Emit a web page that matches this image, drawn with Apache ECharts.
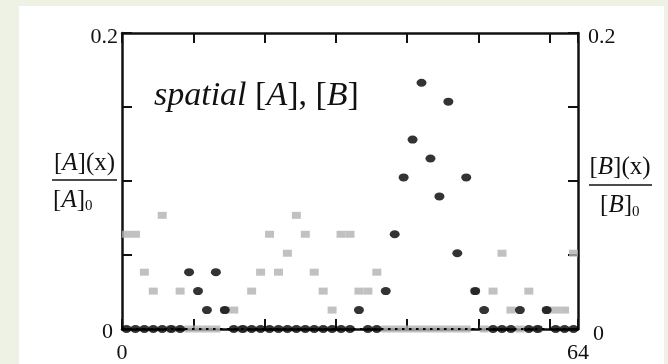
<!DOCTYPE html>
<html>
<head>
<meta charset="utf-8">
<script src="https://cdn.jsdelivr.net/npm/echarts@6/dist/echarts.min.js"></script>
<style>
  html, body { margin: 0; padding: 0; background: #eef2e4; }
  #chart { width: 668px; height: 364px; }
</style>
</head>
<body>
<div id="chart"></div>
<script>
// Compartment index along the 1-D domain (51 compartments spanning x = 0..64)
const cells = [
  0, 1, 2, 3, 4, 5, 6, 7, 8, 9, 10, 11, 12, 13, 14, 15, 16, 17, 18, 19, 20, 21, 22, 23, 24, 25,
  26, 27, 28, 29, 30, 31, 32, 33, 34, 35, 36, 37, 38, 39, 40, 41, 42, 43, 44, 45, 46, 47, 48, 49, 50
];

// Normalised concentration [A](x)/[A]0 per compartment
const concA = [
  0, 0, 0, 0, 0, 0, 0, 0.0384, 0.0256, 0.0128, 0.0384, 0.0128, 0, 0, 0, 0, 0, 0, 0, 0, 0, 0, 0, 0, 0, 0,
  0.0128, 0, 0, 0.0256, 0.064, 0.1024, 0.128, 0.1664, 0.1152, 0.0896, 0.1536, 0.0512, 0.1024, 0.0256,
  0.0128, 0, 0, 0, 0.0128, 0, 0, 0.0128, 0, 0, 0
];

// Normalised concentration [B](x)/[B]0 per compartment
const concB = [
  0.064, 0.064, 0.0384, 0.0256, 0.0768, 0, 0.0256, 0, 0, 0, 0, 0.0128, 0.0128, 0, 0.0256, 0.0384,
  0.064, 0.0384, 0.0512, 0.0768, 0.064, 0.0384, 0.0256, 0.0128, 0.064, 0.064, 0.0256, 0.0256, 0.0384,
  0, 0, 0, 0, 0, 0, 0, 0, 0, 0, 0.0256, 0, 0.0256, 0.0512, 0.0128, 0, 0.0256, 0, 0.0128, 0.0128,
  0.0128, 0.0512
];

// Dotted reference level just above zero
const threshold = 0.004;

// Axis ranges and the tick labels that are printed
const xDomain = [0, 64];
const xLabels = [0, 64];
const yDomain = [0, 0.2];
const yLabels = ['0', '0.2'];

const serif = '"Liberation Serif", "Times New Roman", serif';
const ink = '#111';
const labelSize = 22;
const nameSize = 25;

const chart = echarts.init(document.getElementById('chart'), null, { renderer: 'canvas' });

const axisLine = { show: true, onZero: false, lineStyle: { color: ink, width: 2.5 } };
const axisTick = { show: true, inside: true, length: 10, lineStyle: { color: ink, width: 2 } };

function yLabel(v) {
  if (Math.abs(v - yDomain[0]) < 1e-9) return '{z|' + yLabels[0] + '}';
  if (Math.abs(v - yDomain[1]) < 1e-9) return '{t|' + yLabels[1] + '}';
  return '';
}

const option = {
  backgroundColor: 'transparent',
  animation: false,
  grid: { left: 122, right: 90, top: 33, bottom: 33 },
  title: {
    text: '{i|spatial} [{i|A}], [{i|B}]',
    left: 149,
    top: 74,
    textStyle: {
      fontFamily: serif, fontSize: 34, color: ink, fontWeight: 'normal',
      rich: { i: { fontFamily: serif, fontSize: 34, fontStyle: 'italic', color: ink } }
    }
  },
  xAxis: [
    {
      type: 'value', position: 'bottom', min: xDomain[0], max: xDomain[1], interval: 10,
      axisLine, axisTick, splitLine: { show: false },
      axisLabel: {
        showMinLabel: true, showMaxLabel: true, margin: 13,
        fontFamily: serif, fontSize: labelSize, color: ink,
        formatter: v => (xLabels.indexOf(v) >= 0 ? String(v) : '')
      }
    },
    {
      type: 'value', position: 'top', min: xDomain[0], max: xDomain[1], interval: 10,
      axisLine, axisTick, splitLine: { show: false }, axisLabel: { show: false }
    },
    {
      type: 'category', data: cells, show: false, boundaryGap: true
    }
  ],
  yAxis: [
    {
      type: 'value', position: 'left', min: yDomain[0], max: yDomain[1], interval: 0.05,
      axisLine, axisTick, splitLine: { show: false },
      axisLabel: {
        showMinLabel: true, showMaxLabel: true, margin: 4,
        fontFamily: serif, fontSize: labelSize, color: ink,
        formatter: yLabel,
        rich: {
          z: { fontFamily: serif, fontSize: labelSize, color: ink, padding: [7, 5, 0, 0] },
          t: { fontFamily: serif, fontSize: labelSize, color: ink, padding: [8, 0, 0, 0] }
        }
      }
    },
    {
      type: 'value', position: 'right', min: yDomain[0], max: yDomain[1], interval: 0.05,
      axisLine, axisTick, splitLine: { show: false },
      axisLabel: {
        showMinLabel: true, showMaxLabel: true, margin: 10,
        fontFamily: serif, fontSize: labelSize, color: ink,
        formatter: yLabel,
        rich: {
          z: { fontFamily: serif, fontSize: labelSize, color: ink, padding: [10, 0, 0, 5] },
          t: { fontFamily: serif, fontSize: labelSize, color: ink, padding: [8, 0, 0, 0] }
        }
      }
    }
  ],
  series: [
    {
      name: '[B]',
      type: 'scatter',
      xAxisIndex: 2,
      yAxisIndex: 1,
      symbol: 'rect',
      symbolSize: [9, 7],
      itemStyle: { color: '#b2b2b2' },
      data: concB,
      z: 2,
      markLine: {
        silent: true,
        symbol: ['none', 'none'],
        label: { show: false },
        lineStyle: { color: '#000', width: 2, type: [2.5, 4.5] },
        data: [{ yAxis: threshold }]
      }
    },
    {
      name: '[A]',
      type: 'scatter',
      xAxisIndex: 2,
      yAxisIndex: 0,
      symbol: 'circle',
      symbolSize: [10, 8],
      itemStyle: { color: '#000' },
      data: concA,
      z: 3
    }
  ],
  graphic: [
    // white panel
    { type: 'rect', z: -100, shape: { x: 19, y: 6, width: 645, height: 370 }, style: { fill: '#ffffff' } },
    // left axis name: [A](x) / [A]0
    {
      type: 'text', x: 84.5, y: 163,
      style: {
        text: '[{i|A}](x)', fill: ink, font: nameSize + 'px ' + serif, align: 'center', verticalAlign: 'middle',
        rich: { i: { font: 'italic ' + nameSize + 'px ' + serif, fill: ink } }
      }
    },
    { type: 'line', shape: { x1: 52, y1: 180, x2: 117, y2: 180 }, style: { stroke: ink, lineWidth: 1.5 } },
    {
      type: 'text', x: 85, y: 200,
      style: {
        text: '[{i|A}]', fill: ink, font: nameSize + 'px ' + serif, align: 'right', verticalAlign: 'middle',
        rich: { i: { font: 'italic ' + nameSize + 'px ' + serif, fill: ink } }
      }
    },
    { type: 'text', x: 85, y: 206, style: { text: '0', fill: ink, font: '15px ' + serif, align: 'left', verticalAlign: 'middle' } },
    // right axis name: [B](x) / [B]0
    {
      type: 'text', x: 620, y: 167,
      style: {
        text: '[{i|B}](x)', fill: ink, font: nameSize + 'px ' + serif, align: 'center', verticalAlign: 'middle',
        rich: { i: { font: 'italic ' + nameSize + 'px ' + serif, fill: ink } }
      }
    },
    { type: 'line', shape: { x1: 589, y1: 185, x2: 652, y2: 185 }, style: { stroke: ink, lineWidth: 1.5 } },
    {
      type: 'text', x: 632, y: 205,
      style: {
        text: '[{i|B}]', fill: ink, font: nameSize + 'px ' + serif, align: 'right', verticalAlign: 'middle',
        rich: { i: { font: 'italic ' + nameSize + 'px ' + serif, fill: ink } }
      }
    },
    { type: 'text', x: 632, y: 212, style: { text: '0', fill: ink, font: '15px ' + serif, align: 'left', verticalAlign: 'middle' } }
  ]
};

chart.setOption(option);
</script>
</body>
</html>
